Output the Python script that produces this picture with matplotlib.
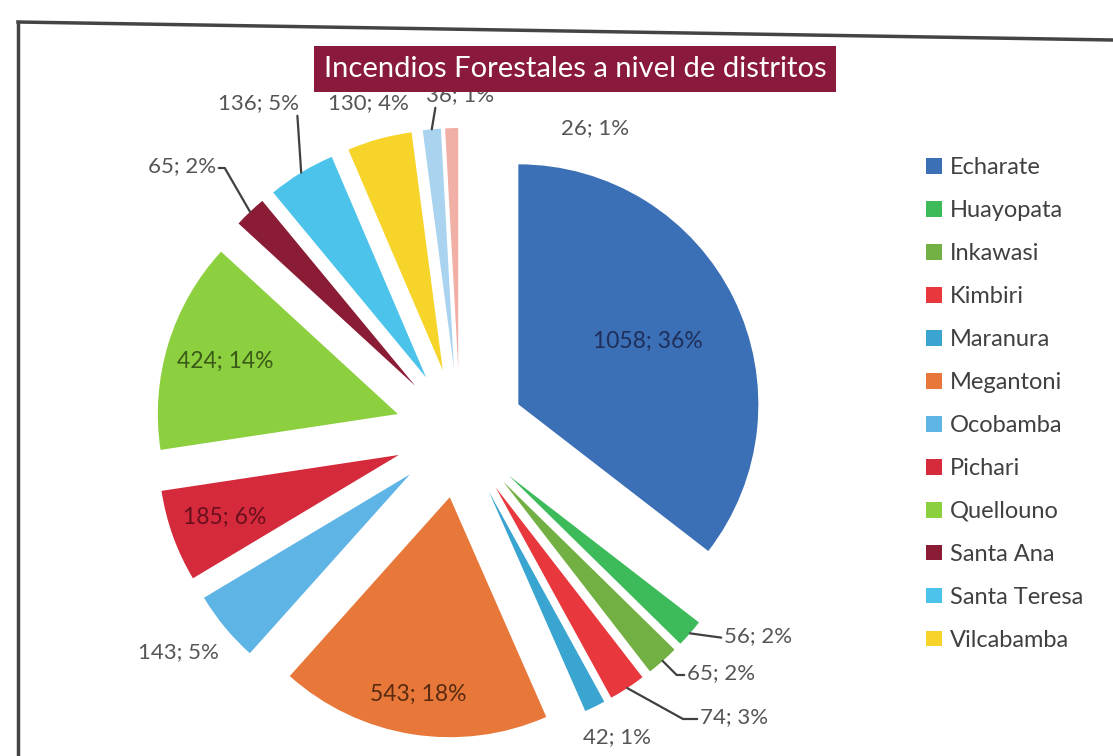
import numpy as np
import matplotlib.pyplot as plt
from matplotlib.lines import Line2D

plt.rcParams['font.family'] = ['Lato', 'DejaVu Sans']

# 1. Datos
distritos = ["Echarate", "Huayopata", "Inkawasi", "Kimbiri", "Maranura", "Megantoni",
             "Ocobamba", "Pichari", "Quellouno", "Santa Ana", "Santa Teresa", "Vilcabamba"]
incendios = [1058, 56, 65, 74, 42, 543, 143, 185, 424, 65, 136, 130]
porcentajes = [36, 2, 2, 3, 1, 18, 5, 6, 14, 2, 5, 4]
# dos sectores al final que no salen en la leyenda
extra_incendios = [36, 26]
extra_porcentajes = [1, 1]

colores = ["#3b6fb6", "#3dbb5a", "#72b043", "#e8383d", "#3aa5d0", "#e8783a",
           "#5fb4e6", "#d42a3c", "#8ccf3f", "#8a1c35", "#4cc3ea", "#f7d42a"]
colores_extra = ["#a9d3ef", "#f0b0a5"]

valores = incendios + extra_incendios
pcts = porcentajes + extra_porcentajes
etiquetas = [f"{v}; {p}%" for v, p in zip(valores, pcts)]

# 2. Lienzo en pixeles (y hacia arriba)
W, H = 1113, 756
fig = plt.figure(figsize=(W / 100, H / 100), dpi=100)
ax = fig.add_axes([0, 0, 1, 1])

R = 240
centro = (460, H - 433)
separacion = [65] * len(valores)

wedges, _ = ax.pie(valores, colors=colores + colores_extra, startangle=90,
                   counterclock=False, radius=R, center=centro,
                   explode=separacion, wedgeprops=dict(linewidth=0))
ax.set_xlim(0, W)
ax.set_ylim(0, H)
ax.set_aspect('equal')
ax.axis('off')


def punto(w, f):
    ang = np.deg2rad((w.theta1 + w.theta2) / 2)
    cx, cy = w.center
    return cx + f * w.r * np.cos(ang), cy + f * w.r * np.sin(ang)


# 3. Etiquetas dentro de los sectores grandes
dentro = {0: (0.60, "#1f2f5a"), 5: (0.83, "#5a2a10"), 7: (0.77, "#6a0f1c"), 8: (0.75, "#3a5a18")}
for i, (f, c) in dentro.items():
    x, y = punto(wedges[i], f)
    ax.text(x, y, etiquetas[i], ha='center', va='center', fontsize=16.5, color=c)

# 4. Etiquetas fuera (posición del texto en pixeles de pantalla)
gris = "#555555"
fuera = {
    1: (724, 636, 'left', "arc3,rad=0", (0, 0.4)),
    2: (687, 673, 'left', "angle,angleA=0,angleB=-45,rad=0", (0, 0.4)),
    3: (700, 717, 'left', "angle,angleA=0,angleB=-29,rad=0", (0, 0.4)),
    4: (617, 737, 'center', None, None),
    6: (178, 652, 'center', None, None),
    9: (216, 166, 'right', "angle,angleA=0,angleB=120,rad=0", (1, 0.4)),
    10: (259, 103, 'center', "arc3,rad=0", (0.97, 0.1)),
    11: (368, 103, 'center', None, None),
    12: (460, 95, 'center', "arc3,rad=0", (0.15, 0.1)),
    13: (595, 128, 'center', None, None),
}
for i, (tx, ty, ha, estilo, rel) in fuera.items():
    if estilo is None:
        ax.text(tx, H - ty, etiquetas[i], ha=ha, va='center', fontsize=16, color=gris)
    else:
        ax.annotate(etiquetas[i], xy=punto(wedges[i], 1.0), xytext=(tx, H - ty),
                    ha=ha, va='center', fontsize=16, color=gris,
                    arrowprops=dict(arrowstyle='-', color="#404040", lw=1.6,
                                    connectionstyle=estilo, relpos=rel,
                                    shrinkA=0, shrinkB=0))

# 5. Título en caja granate
fig.text(575 / W, 1 - 69 / H, "Incendios Forestales a nivel de distritos",
         ha='center', va='center', fontsize=21, color='white', zorder=10,
         bbox=dict(boxstyle='square,pad=0.33', fc='#8a1a3c', ec='none'))

# 6. Leyenda (solo 12 distritos)
ax.legend(wedges[:12], distritos, loc='upper left',
          bbox_to_anchor=(905 / W, 1 - 136 / H), bbox_transform=fig.transFigure,
          frameon=False, fontsize=17, labelcolor="#404040",
          handlelength=0.65, handleheight=0.65, handletextpad=0.35, labelspacing=0.93)

# 7. Borde del recuadro
fig.add_artist(Line2D([18 / W, 18 / W], [0, 1 - 22 / H], color="#444444", lw=2.5))
fig.add_artist(Line2D([18 / W, 1], [1 - 22 / H, 1 - 40 / H], color="#444444", lw=2.5))

fig.savefig("out.png", dpi=100)
